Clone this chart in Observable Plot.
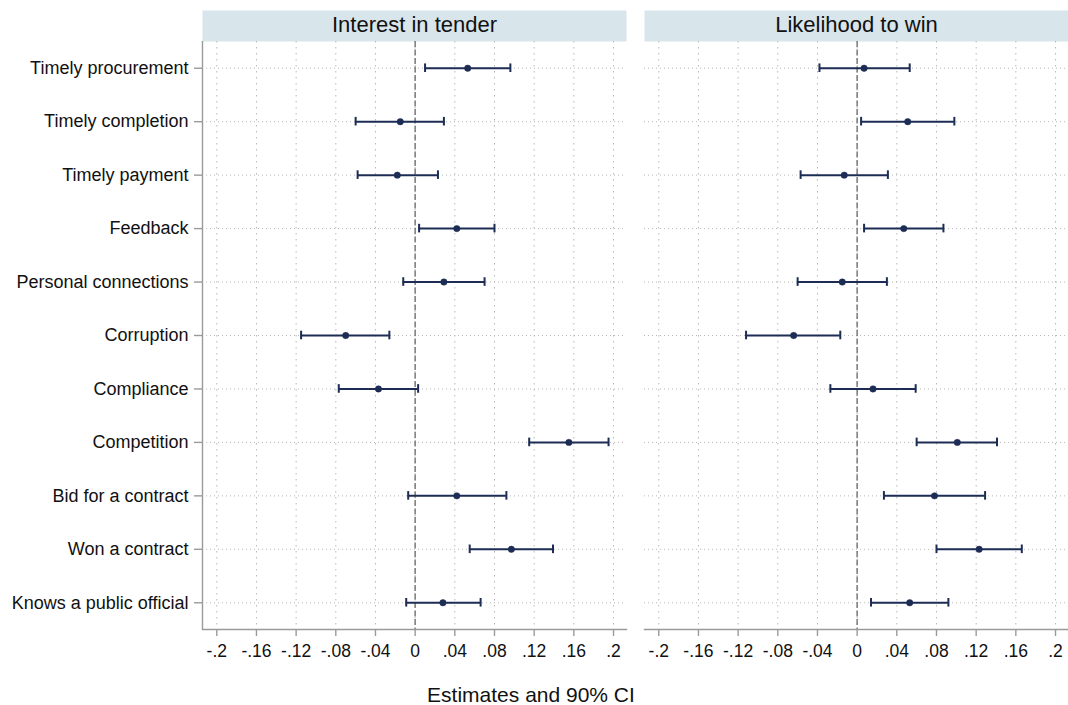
<!DOCTYPE html>
<html><head><meta charset="utf-8">
<script src="https://cdn.jsdelivr.net/npm/d3@7"></script>
<script src="https://cdn.jsdelivr.net/npm/@observablehq/plot@0.6"></script>
<style>
body{margin:0;background:#fff;font-family:"Liberation Sans",Arial,Helvetica,sans-serif;}
#xtitle{width:1068px;text-align:center;font-size:21px;line-height:35px;padding-top:7px;padding-right:6px;color:#111;box-sizing:border-box;}
</style></head><body><div id="chart"></div><div id="xtitle">Estimates and 90% CI</div>
<script>
const categories = ["Timely procurement","Timely completion","Timely payment","Feedback","Personal connections","Corruption","Compliance","Competition","Bid for a contract","Won a contract","Knows a public official"];
const panels = ["Interest in tender","Likelihood to win"];
const interestEst = [0.053,-0.015,-0.018,0.042,0.029,-0.070,-0.037,0.155,0.042,0.097,0.028];
const interestLo  = [0.010,-0.060,-0.058,0.004,-0.012,-0.115,-0.077,0.115,-0.007,0.055,-0.009];
const interestHi  = [0.096,0.029,0.023,0.080,0.070,-0.026,0.003,0.195,0.092,0.139,0.066];
const winEst = [0.007,0.051,-0.013,0.047,-0.015,-0.064,0.016,0.101,0.078,0.123,0.053];
const winLo  = [-0.038,0.004,-0.057,0.007,-0.060,-0.112,-0.027,0.060,0.027,0.080,0.014];
const winHi  = [0.053,0.098,0.031,0.087,0.030,-0.017,0.059,0.141,0.129,0.166,0.092];
const xTicks = [-0.2,-0.16,-0.12,-0.08,-0.04,0,0.04,0.08,0.12,0.16,0.2];

const xDomain = [-0.2144, 0.2131];
const navy = "#1c2c54";
const axisGray = "#9a9a9a";

const rows = [];
categories.forEach((c, i) => {
  rows.push({panel: panels[0], cat: c, est: interestEst[i], lo: interestLo[i], hi: interestHi[i]});
  rows.push({panel: panels[1], cat: c, est: winEst[i], lo: winLo[i], hi: winHi[i]});
});

const fmt = d => {
  if (d === 0) return "0";
  return String(+d.toFixed(2)).replace("0.", ".");
};

const chart = Plot.plot({
  width: 1068, height: 670,
  marginTop: 41, marginBottom: 41, marginLeft: 202, marginRight: 0,
  style: {fontFamily: '"Liberation Sans", Arial, Helvetica, sans-serif', fontSize: "18px", color: "#111", background: "white"},
  facet: {marginTop: 0, marginRight: 0, marginBottom: 0, marginLeft: 0},
  fx: {domain: panels, paddingInner: 0.0407, paddingOuter: 0, round: false, axis: null, label: null},
  x: {domain: xDomain, label: null},
  y: {type: "point", domain: categories, padding: 0.5, round: false, label: null},
  marks: [
    Plot.frame({fill: "#d8e5eb", stroke: "none", insetTop: -31, insetBottom: 588}),
    Plot.text(panels, {fx: d => d, text: d => d, frameAnchor: "top", lineAnchor: "middle", dy: -17, fontSize: 22, fill: "#111"}),
    Plot.gridY({stroke: "#b8b8b8", strokeOpacity: 1, strokeWidth: 1, strokeDasharray: "1,3"}),
    Plot.gridX(xTicks, {stroke: "#b8b8b8", strokeOpacity: 1, strokeWidth: 1, strokeDasharray: "1.5,4.5"}),
    Plot.ruleX([0], {stroke: "#7a7a7a", strokeWidth: 1.5, strokeDasharray: "6,2.5"}),
    Plot.frame({anchor: "bottom", stroke: axisGray, strokeWidth: 1.4}),
    Plot.ruleX([xDomain[0]], {fx: () => panels[0], stroke: axisGray, strokeWidth: 1.4}),
    Plot.ruleY(rows, {fx: "panel", y: "cat", x1: "lo", x2: "hi", stroke: navy, strokeWidth: 2}),
    Plot.ruleX(rows, {fx: "panel", y1: "cat", y2: "cat", x: "lo", stroke: navy, strokeWidth: 2, insetTop: -4.3, insetBottom: -4.3}),
    Plot.ruleX(rows, {fx: "panel", y1: "cat", y2: "cat", x: "hi", stroke: navy, strokeWidth: 2, insetTop: -4.3, insetBottom: -4.3}),
    Plot.dot(rows, {fx: "panel", x: "est", y: "cat", r: 3.2, fill: navy, stroke: navy, strokeWidth: 0.5}),
    Plot.axisX(xTicks, {tickFormat: fmt, tickSize: 7, tickPadding: 8, stroke: axisGray, strokeWidth: 1.4, fill: "#111", fontSize: 17.5, label: null}),
    Plot.axisY({tickSize: 8, tickPadding: 6, stroke: axisGray, strokeWidth: 1.4, fill: "#111", fontSize: 18, label: null})
  ]
});
document.getElementById("chart").appendChild(chart);
</script>
</body></html>
